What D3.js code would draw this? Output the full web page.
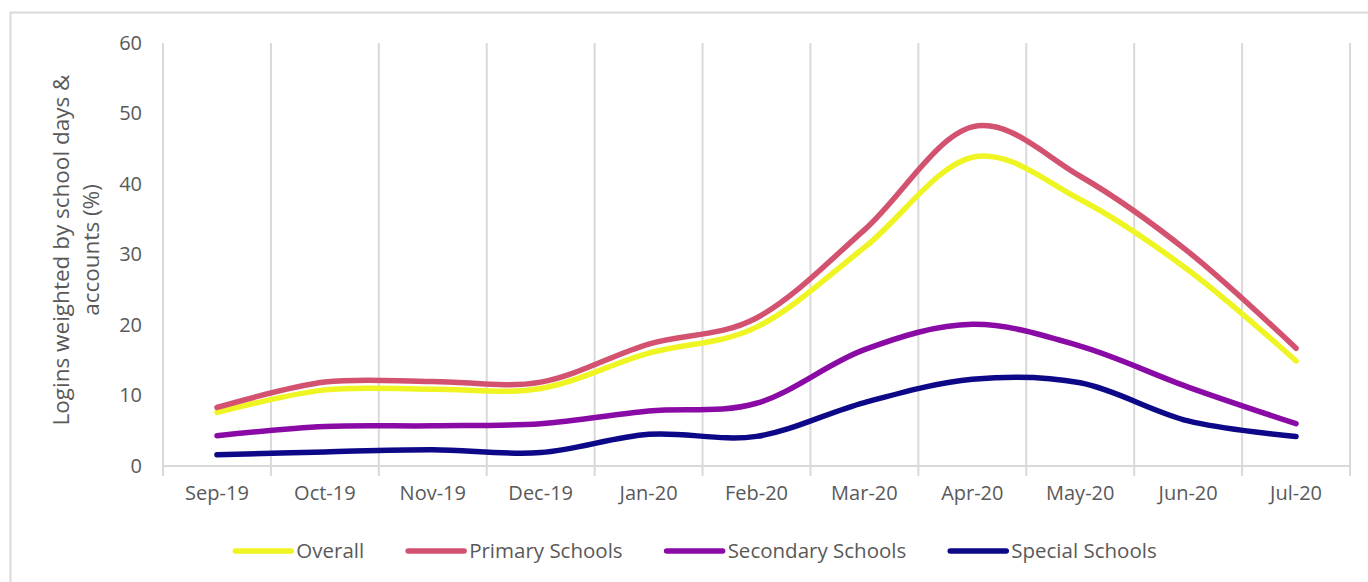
<!DOCTYPE html>
<html>
<head>
<meta charset="utf-8">
<script src="https://cdn.jsdelivr.net/npm/d3@7"></script>
<style>
  html, body { margin: 0; padding: 0; background: #fff; }
  svg { display: block; }
  text { font-family: "Open Sans", "Liberation Sans", sans-serif; fill: #595959; }
</style>
</head>
<body>
<svg id="chart" width="1368" height="582"></svg>
<script>
const months = ["Sep-19","Oct-19","Nov-19","Dec-19","Jan-20","Feb-20","Mar-20","Apr-20","May-20","Jun-20","Jul-20"];
const overall   = [7.6, 10.8, 10.9, 11.0, 16.0, 19.7, 31.0, 43.8, 37.8, 27.8, 14.9];
const primary   = [8.3, 11.9, 12.0, 11.9, 17.3, 21.0, 33.5, 48.1, 41.1, 30.4, 16.7];
const secondary = [4.3, 5.6, 5.7, 6.0, 7.8, 8.9, 16.5, 20.1, 17.0, 11.2, 6.0];
const special   = [1.6, 2.0, 2.3, 1.9, 4.5, 4.2, 9.0, 12.3, 11.8, 6.4, 4.2];
const yTicks = [0, 10, 20, 30, 40, 50, 60];
const seriesNames = ["Overall", "Primary Schools", "Secondary Schools", "Special Schools"];
const seriesColors = ["#eef522", "#d35270", "#8a0aa5", "#0d0887"];
const yTitleLines = ["Logins weighted by school days &", "accounts (%)"];

const series = [overall, primary, secondary, special].map((v, i) => ({
  name: seriesNames[i], color: seriesColors[i], values: v
}));

const svg = d3.select("#chart");

// outer frame
svg.append("rect").attr("x", 10.5).attr("y", 12.5).attr("width", 1400).attr("height", 620)
  .attr("fill", "none").attr("stroke", "#d9d9d9").attr("stroke-width", 2);

const x = d3.scaleBand().domain(months).range([163, 1350]).padding(0);
const y = d3.scaleLinear().domain([0, 60]).range([466, 43]);
const cx = d => x(d) + x.bandwidth() / 2;

// vertical gridlines at band edges
const edges = months.map(m => x(m)).concat([x.range()[1]]);
svg.append("g").selectAll("line").data(edges).join("line")
  .attr("x1", d => d).attr("x2", d => d)
  .attr("y1", y(60)).attr("y2", y(0) + 10)
  .attr("stroke", "#d9d9d9").attr("stroke-width", 2);

// x axis baseline
svg.append("line").attr("x1", x.range()[0]).attr("x2", x.range()[1])
  .attr("y1", y(0)).attr("y2", y(0)).attr("stroke", "#d9d9d9").attr("stroke-width", 2);

// y axis labels
const yAxis = svg.append("g").attr("transform", "translate(142,0)")
  .call(d3.axisLeft(y).tickValues(yTicks).tickSize(0).tickPadding(0));
yAxis.select(".domain").remove();
yAxis.selectAll("text").attr("font-size", 20).style("fill", "#595959")
  .style("font-family", '"Open Sans", sans-serif');

// x axis labels
const xAxis = svg.append("g").attr("transform", `translate(0,${y(0) + 20})`)
  .call(d3.axisBottom(x).tickSize(0).tickPadding(0));
xAxis.select(".domain").remove();
xAxis.selectAll("text").attr("font-size", 20).style("fill", "#595959")
  .style("font-family", '"Open Sans", sans-serif');

// y title
const yt = svg.append("text").attr("transform", "translate(69,250) rotate(-90)")
  .attr("text-anchor", "middle").attr("font-size", 22.5);
yTitleLines.forEach((t, i) => {
  yt.append("tspan").attr("x", 0).attr("dy", i === 0 ? 0 : 30).text(t);
});

// lines
const line = d3.line()
  .x((d, i) => cx(months[i]))
  .y(d => y(d))
  .curve(d3.curveCardinal.tension(0));

svg.append("g").selectAll("path").data(series).join("path")
  .attr("d", s => line(s.values))
  .attr("fill", "none")
  .attr("stroke", s => s.color)
  .attr("stroke-width", 5.5)
  .attr("stroke-linecap", "round")
  .attr("stroke-linejoin", "round");

// legend
const lg = svg.append("g");
const items = lg.selectAll("g").data(series).join("g");
items.append("line").attr("x1", 0).attr("x2", 56).attr("y1", 0).attr("y2", 0)
  .attr("stroke", d => d.color).attr("stroke-width", 5.5).attr("stroke-linecap", "round");
items.append("text").attr("x", 61).attr("y", 0).attr("dy", "0.35em")
  .attr("font-size", 20.5).text(d => d.name);
let cursor = 0;
items.each(function() {
  const w = d3.select(this).select("text").node().getComputedTextLength();
  d3.select(this).attr("transform", `translate(${cursor},0)`);
  cursor += 61 + w + 44;
});
const total = cursor - 44;
lg.attr("transform", `translate(${696 - total / 2},551)`);
</script>
</body>
</html>
